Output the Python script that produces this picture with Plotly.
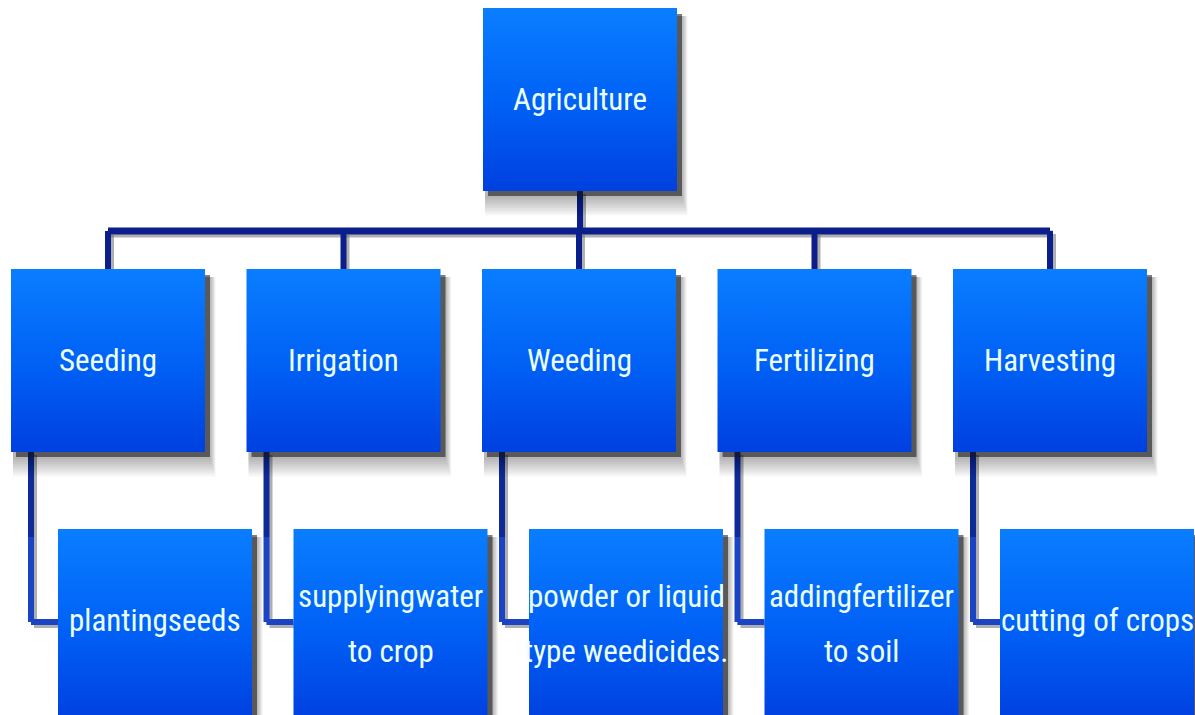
import plotly.graph_objects as go

# ---- data ----
root_label = "Agriculture"
stage_labels = ["Seeding", "Irrigation", "Weeding", "Fertilizing", "Harvesting"]
detail_labels = [
    "plantingseeds",
    "supplyingwater<br>to crop",
    "powder or liquid<br>type weedicides.",
    "addingfertilizer<br>to soil",
    "cutting of crops",
]

# ---- layout constants (pixel space, y measured from top) ----
W, H = 1195, 715
BOX_W, BOX_H = 194, 183
L3_H = 192
ROOT_LEFT, ROOT_TOP = 483, 8
L2_LEFT0, L2_STEP, L2_TOP = 11, 235.5, 269
L3_DX, L3_TOP = 47, 529
BUS_Y = 231
ELBOW_DX, ELBOW_Y = 20, 622
LINE_GAP = 55

FONT = "Roboto Condensed, Liberation Sans Narrow, DejaVu Sans Condensed, sans-serif"
TEXT_COLOR = "#eaffff"
FONT_SIZE = 31

def Y(py):
    return H - py

fig = go.Figure()
shapes = []
annotations = []

def add_shadow(left, top, h):
    shapes.append(dict(type="rect", layer="below", line_width=0,
                       x0=left + 5, x1=left + BOX_W + 5, y0=Y(top + h + 5), y1=Y(top + 6),
                       fillcolor="rgba(40,40,40,0.6)"))
    for k in range(1, 9):
        shapes.append(dict(type="rect", layer="below", line_width=0,
                           x0=left + 2, x1=left + BOX_W + 5 + k * 0.7,
                           y0=Y(top + h + 5 + k * 2.4), y1=Y(top + 8),
                           fillcolor="rgba(0,0,0,0.04)"))

def add_box(left, top, label, h=BOX_H):
    add_shadow(left, top, h)
    xs = [left, left + BOX_W, left + BOX_W, left, left]
    ys = [Y(top), Y(top), Y(top + h), Y(top + h), Y(top)]
    fig.add_trace(go.Scatter(
        x=xs, y=ys, mode="lines", fill="toself",
        line=dict(width=0, color="rgba(0,0,0,0)"),
        fillgradient=dict(type="vertical",
                          colorscale=[[0, "#0040e0"], [0.5, "#0062f6"], [1, "#0a7eff"]]),
        hoverinfo="skip", showlegend=False))
    lines = label.split("<br>")
    cy = top + BOX_H / 2 + (3 if len(lines) > 1 else 0)
    n = len(lines)
    for i, ln in enumerate(lines):
        py = cy + (i - (n - 1) / 2) * LINE_GAP
        annotations.append(dict(x=left + BOX_W / 2, y=Y(py), text=ln,
                                showarrow=False, xanchor="center", yanchor="middle",
                                font=dict(family=FONT, size=FONT_SIZE, color=TEXT_COLOR)))

def add_line(x0, y0, x1, y1, color, width):
    shapes.append(dict(type="line", layer="below", x0=x0 + 3, y0=Y(y0 + 3), x1=x1 + 3, y1=Y(y1 + 3),
                       line=dict(color="rgba(110,110,110,0.55)", width=width)))
    shapes.append(dict(type="line", layer="below", x0=x0, y0=Y(y0), x1=x1, y1=Y(y1),
                       line=dict(color=color, width=width)))

NAVY = "#0b1f8c"
ELBOW_TOP = "#0e2a98"
ELBOW = "#1b44c4"

root_cx = ROOT_LEFT + BOX_W / 2
l2_lefts = [L2_LEFT0 + i * L2_STEP for i in range(len(stage_labels))]
l2_centers = [l + BOX_W / 2 for l in l2_lefts]

# connectors
add_line(root_cx, ROOT_TOP + BOX_H, root_cx, BUS_Y, NAVY, 6)
add_line(l2_centers[0], BUS_Y, l2_centers[-1], BUS_Y, NAVY, 7)
for cx in l2_centers:
    add_line(cx, BUS_Y, cx, L2_TOP, NAVY, 6)
for l in l2_lefts:
    ex = l + ELBOW_DX
    add_line(ex, L2_TOP + BOX_H, ex, (L2_TOP + BOX_H + ELBOW_Y) / 2, ELBOW_TOP, 6)
    add_line(ex, (L2_TOP + BOX_H + ELBOW_Y) / 2, ex, ELBOW_Y, ELBOW, 6)
    add_line(ex, ELBOW_Y, l + L3_DX, ELBOW_Y, ELBOW, 6)

# boxes
add_box(ROOT_LEFT, ROOT_TOP, root_label)
for l, lab in zip(l2_lefts, stage_labels):
    add_box(l, L2_TOP, lab)
for l, lab in zip(l2_lefts, detail_labels):
    add_box(l + L3_DX, L3_TOP, lab, L3_H)

fig.update_layout(
    width=W, height=H, margin=dict(l=0, r=0, t=0, b=0),
    paper_bgcolor="white", plot_bgcolor="white",
    xaxis=dict(range=[0, W], visible=False, fixedrange=True),
    yaxis=dict(range=[0, H], visible=False, fixedrange=True),
    shapes=shapes, annotations=annotations, showlegend=False,
)
fig.write_html("out.html", config={"displayModeBar": False},
               post_script="document.body.style.margin='0';document.body.style.overflow='hidden';")
